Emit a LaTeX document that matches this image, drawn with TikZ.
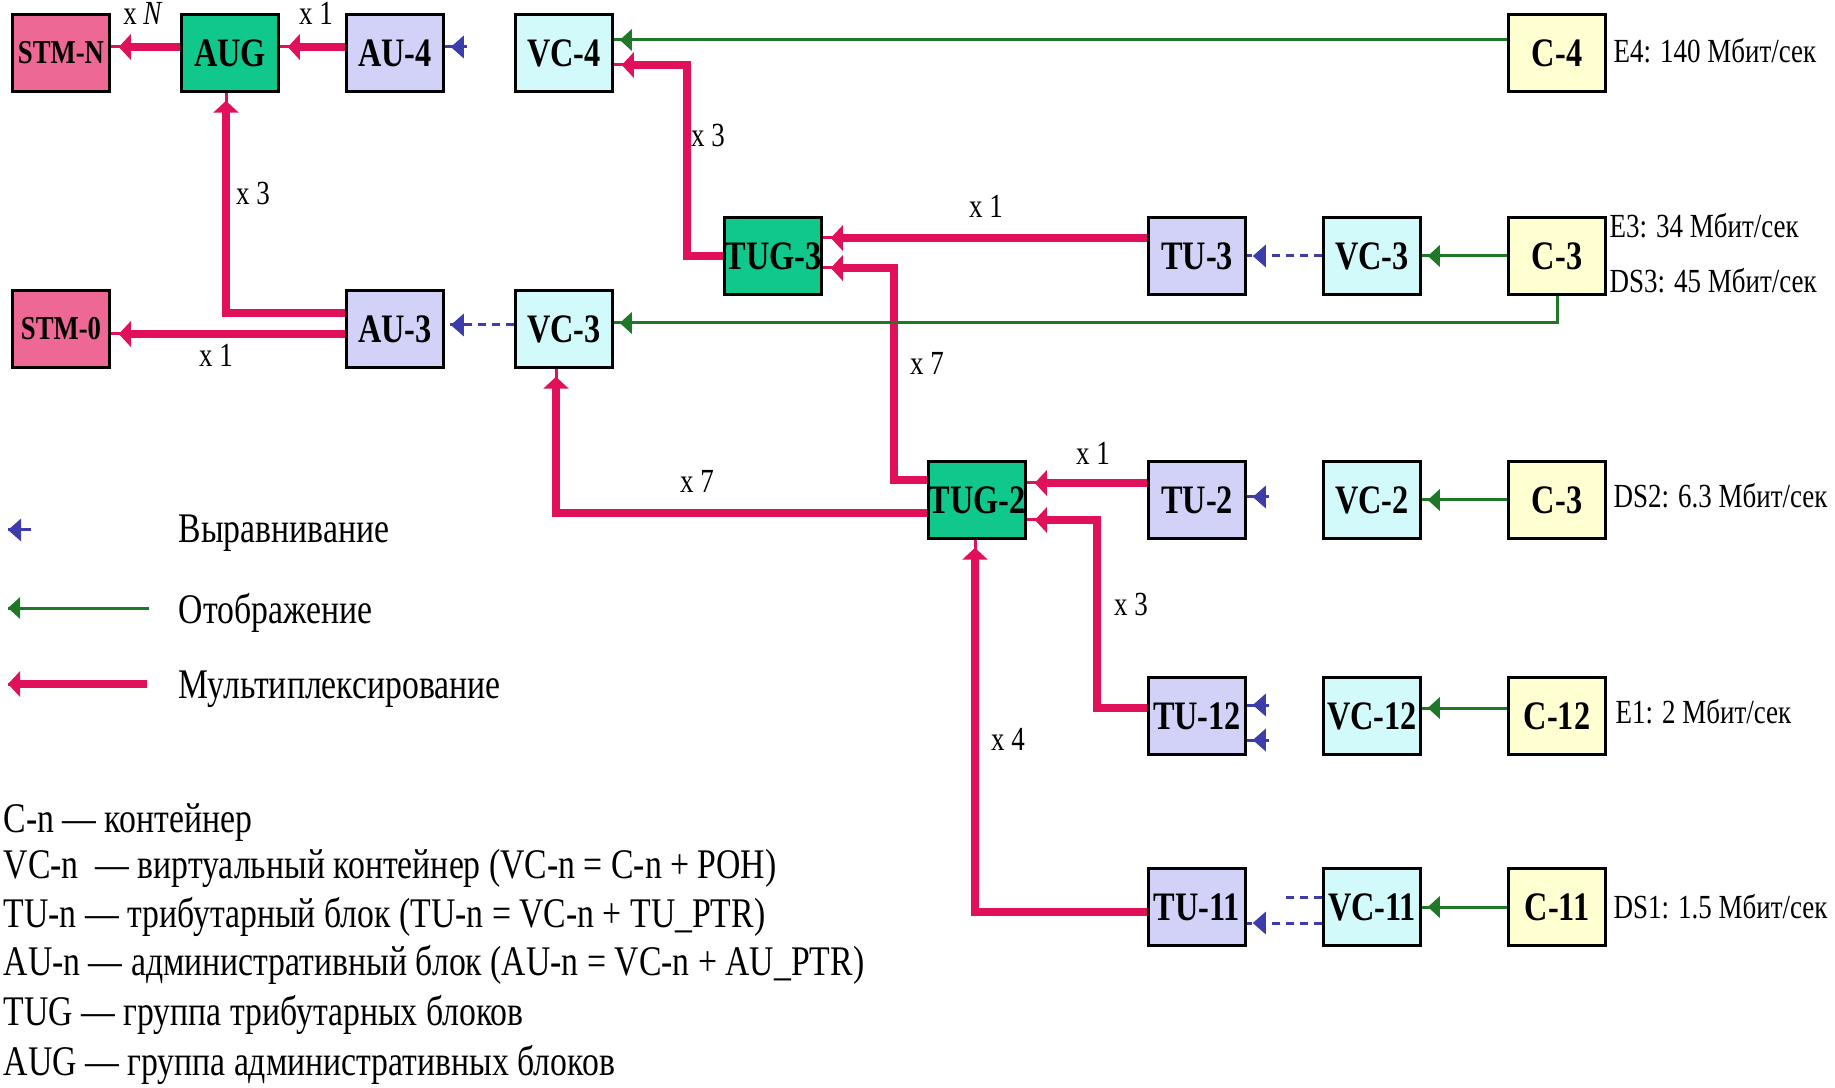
\documentclass[tikz,border=0pt]{standalone}
\usepackage{fontspec}
\setmainfont{Liberation Serif}[FakeStretch=0.8]
\usetikzlibrary{arrows.meta}
\definecolor{stmc}{RGB}{238,104,150}
\definecolor{grpc}{RGB}{16,200,140}
\definecolor{tuc}{RGB}{210,210,248}
\definecolor{vcc}{RGB}{210,250,250}
\definecolor{cc}{RGB}{255,255,210}
\definecolor{muxc}{RGB}{224,16,90}
\definecolor{mapc}{RGB}{30,120,40}
\definecolor{alnc}{RGB}{60,60,170}

\begin{document}
\begin{tikzpicture}[x=0.1mm,y=-0.1mm,
  blk/.style={draw=black,line width=0.25mm,minimum width=9.7mm,minimum height=7.7mm,inner sep=0pt,
    font=\fontsize{11.5}{13}\selectfont\bfseries},
  stm/.style={blk,fill=stmc,font=\fontsize{9.5}{11}\selectfont\bfseries},
  grp/.style={blk,fill=grpc},
  tub/.style={blk,fill=tuc},
  vcb/.style={blk,fill=vcc},
  cb/.style={blk,fill=cc},
  mux/.style={draw=muxc,line width=0.8mm,-{Triangle[length=1.2mm,width=2.5mm]},shorten >=0.8mm,
    postaction={draw,-,shorten >=0pt,line width=0.3mm}},
  mapl/.style={draw=mapc,line width=0.3mm,-{Triangle[length=1.2mm,width=2.1mm]},shorten >=0.6mm,
    postaction={draw,-,shorten >=0pt}},
  alnl/.style={draw=alnc,line width=0.3mm,dash pattern=on 0.8mm off 0.6mm,
    -{Triangle[length=1.3mm,width=2.2mm]},shorten >=0.6mm,postaction={draw,-,shorten >=0pt}},
  alntip/.style={alnl,solid},
  mult/.style={font=\fontsize{9.6}{11}\selectfont,anchor=base,inner sep=0pt},
  rate/.style={font=\fontsize{9.6}{11}\selectfont,anchor=base west,inner sep=0pt},
  lgd/.style={font=\fontsize{12}{14}\selectfont,anchor=base west,inner sep=0pt}]
\useasboundingbox (0,0) rectangle (1835,1088);
% top row
\node[stm] (STMN) at (61,53) {STM-N};
\node[grp] (AUG) at (230,53) {AUG};
\node[tub] (AU4) at (395,53) {AU-4};
\node[vcb] (VC4) at (564,53) {VC-4};
\node[cb] (C4) at (1557,53) {C-4};
% TUG-3 row
\node[grp] (TUG3) at (773,256) {TUG-3};
\node[tub] (TU3) at (1197,256) {TU-3};
\node[vcb] (VC3a) at (1372,256) {VC-3};
\node[cb] (C3a) at (1557,256) {C-3};
% AU-3 row
\node[stm] (STM0) at (61,329) {STM-0};
\node[tub] (AU3) at (395,329) {AU-3};
\node[vcb] (VC3b) at (564,329) {VC-3};
% TUG-2 row
\node[grp] (TUG2) at (977,500) {TUG-2};
\node[tub] (TU2) at (1197,500) {TU-2};
\node[vcb] (VC2) at (1372,500) {VC-2};
\node[cb] (C3c) at (1557,500) {C-3};
% TU-12 and TU-11 rows
\node[tub] (TU12) at (1197,716) {TU-12};
\node[vcb] (VC12) at (1372,716) {VC-12};
\node[cb] (C12) at (1557,716) {C-12};
\node[tub] (TU11) at (1197,907) {TU-11};
\node[vcb] (VC11) at (1372,907) {VC-11};
\node[cb] (C11) at (1557,907) {C-11};
%
% multiplexing
\draw[mux] ([shift={(0,-6)}]AUG.west) -- ([shift={(0,-6)}]STMN.east);
\draw[mux] ([shift={(0,-6)}]AU4.west) -- ([shift={(0,-6)}]AUG.east);
\draw[mux] ([shift={(0,-16)}]AU3.west) -| ([shift={(-4,0)}]AUG.south);
\draw[mux] ([shift={(0,5)}]AU3.west) -- ([shift={(0,5)}]STM0.east);
\draw[mux] (TUG3.west) -- ++(-36,0) |- ([shift={(0,12)}]VC4.east);
\draw[mux] ([shift={(0,-18)}]TU3.west) -- ([shift={(0,-18)}]TUG3.east);
\draw[mux] ([shift={(0,-20)}]TUG2.west) -- ++(-33,0) |- ([shift={(0,12)}]TUG3.east);
\draw[mux] ([shift={(0,13)}]TUG2.west) -| ([shift={(-8,0)}]VC3b.south);
\draw[mux] ([shift={(0,-17)}]TU2.west) -- ([shift={(0,-17)}]TUG2.east);
\draw[mux] ([shift={(0,-8)}]TU12.west) -- ++(-50,0) |- ([shift={(0,20)}]TUG2.east);
\draw[mux] ([shift={(0,5)}]TU11.west) -| ([shift={(-2,0)}]TUG2.south);
% mapping
\draw[mapl] ([shift={(0,-13)}]C4.west) -- ([shift={(0,-13)}]VC4.east);
\draw[mapl] (C3a.west) -- (VC3a.east);
\draw[mapl] (C3a.south) |- ([shift={(0,-6)}]VC3b.east);
\draw[mapl] (C3c.west) -- (VC2.east);
\draw[mapl] ([shift={(0,-8)}]C12.west) -- ([shift={(0,-8)}]VC12.east);
\draw[mapl] (C11.west) -- (VC11.east);
% alignment
\draw[alntip] ([shift={(22,-6)}]AU4.east) -- ([shift={(0,-6)}]AU4.east);
\draw[alnl] ([shift={(0,-4)}]VC3b.west) -- ([shift={(0,-4)}]AU3.east);
\draw[alnl] (VC3a.west) -- (TU3.east);
\draw[alntip] ([shift={(22,-3)}]TU2.east) -- ([shift={(0,-3)}]TU2.east);
\draw[alntip] ([shift={(22,-11)}]TU12.east) -- ([shift={(0,-11)}]TU12.east);
\draw[alntip] ([shift={(22,24)}]TU12.east) -- ([shift={(0,24)}]TU12.east);
\draw[alnl] ([shift={(0,16)}]VC11.west) -- ([shift={(0,16)}]TU11.east);
\draw[alnl,-] ([shift={(0,-10)}]VC11.west) -- ++(-38,0);
%
\node[mult] (mN) at (143,25) {x \textit{N}};
\node[mult] (m1a) at (316,25) {x 1};
\node[mult] (m3a) at (253,205) {x 3};
\node[mult] (m1b) at (216,367) {x 1};
\node[mult] (m3b) at (708,147) {x 3};
\node[mult] (m1c) at (986,218) {x 1};
\node[mult] (m7a) at (927,375) {x 7};
\node[mult] (m7b) at (697,493) {x 7};
\node[mult] (m1d) at (1093,465) {x 1};
\node[mult] (m3c) at (1131,615) {x 3};
\node[mult] (m4) at (1008,750) {x 4};
%
\node[rate] (r1) at (1613,63) {E4: 140 Мбит/сек};
\node[rate] (r2) at (1609,238) {E3: 34 Мбит/сек};
\node[rate] (r3) at (1609,293) {DS3: 45 Мбит/сек};
\node[rate] (r4) at (1613,508) {DS2: 6.3 Мбит/сек};
\node[rate] (r5) at (1615,723) {E1: 2 Мбит/сек};
\node[rate] (r6) at (1613,918) {DS1: 1.5 Мбит/сек};
%
% legend
\coordinate (la1) at (31,530); \coordinate (lb1) at (8,530);
\coordinate (la2) at (149,608); \coordinate (lb2) at (8,608);
\coordinate (la3) at (147,684); \coordinate (lb3) at (8,684);
\draw[alntip,shorten >=0pt] (la1) -- (lb1);
\draw[mapl,shorten >=0pt] (la2) -- (lb2);
\draw[mux,shorten >=0pt] (la3) -- (lb3);
\node[lgd] (T1) at (178,543) {Выравнивание};
\node[lgd] (T2) at (178,623) {Отображение};
\node[lgd] (T3) at (178,698) {Мультиплексирование};
%
\node[lgd] (D1) at (3,832) {C-n — контейнер};
\node[lgd] (D2) at (3,878) {VC-n~ — виртуальный контейнер (VC-n = C-n + POH)};
\node[lgd] (D3) at (3,927) {TU-n — трибутарный блок (TU-n = VC-n + TU\_PTR)};
\node[lgd] (D4) at (3,975) {AU-n — административный блок (AU-n = VC-n + AU\_PTR)};
\node[lgd] (D5) at (3,1025) {TUG — группа трибутарных блоков};
\node[lgd] (D6) at (3,1075) {AUG — группа административных блоков};
\end{tikzpicture}
\end{document}
